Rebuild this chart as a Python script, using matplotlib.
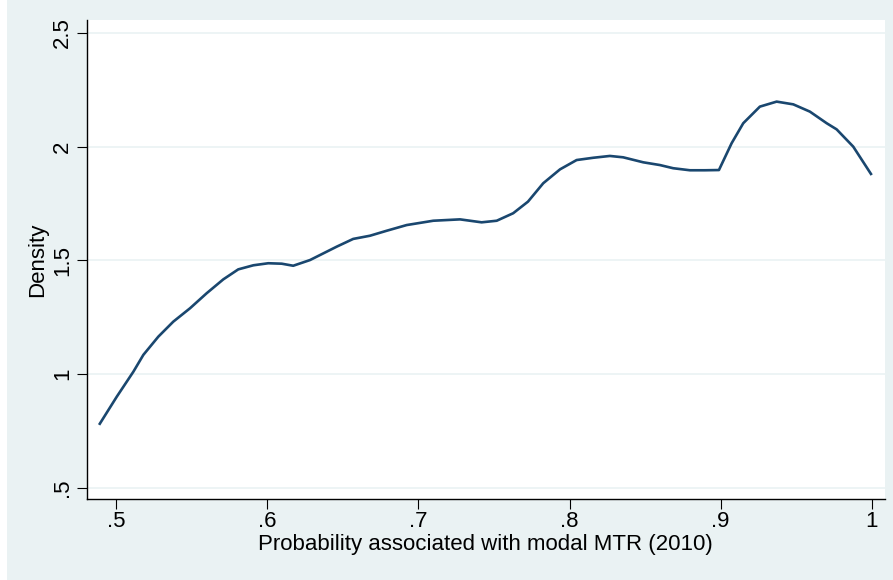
import matplotlib
matplotlib.use("Agg")
import matplotlib.pyplot as plt
from matplotlib.patches import Rectangle

# density curve
prob = [0.4886, 0.5003, 0.5113, 0.5179, 0.5278, 0.5377, 0.5488, 0.5598, 0.5708,
        0.5807, 0.5907, 0.6006, 0.6095, 0.6171, 0.6282, 0.6348, 0.6459, 0.6568,
        0.6679, 0.6790, 0.6922, 0.7098, 0.7275, 0.7418, 0.7518, 0.7627, 0.7725,
        0.7826, 0.7937, 0.8047, 0.8157, 0.8267, 0.8355, 0.8488, 0.8598, 0.8686,
        0.8797, 0.8896, 0.8989, 0.9073, 0.9150, 0.9260, 0.9371, 0.9481, 0.9591,
        0.9702, 0.9768, 0.9878, 1.0000]
density = [0.776, 0.900, 1.010, 1.084, 1.164, 1.230, 1.289, 1.355, 1.416,
           1.460, 1.478, 1.487, 1.485, 1.476, 1.501, 1.523, 1.560, 1.594,
           1.608, 1.630, 1.655, 1.674, 1.680, 1.667, 1.674, 1.707, 1.758,
           1.839, 1.900, 1.941, 1.951, 1.959, 1.953, 1.931, 1.919, 1.905,
           1.896, 1.896, 1.897, 2.015, 2.103, 2.176, 2.198, 2.186, 2.154,
           2.103, 2.076, 2.000, 1.875]

xticks = [0.5, 0.6, 0.7, 0.8, 0.9, 1.0]
xtick_labels = [".5", ".6", ".7", ".8", ".9", "1"]
yticks = [0.5, 1.0, 1.5, 2.0, 2.5]
ytick_labels = [".5", "1", "1.5", "2", "2.5"]

bg = "#eaf2f3"
navy = "#1a476f"
plt.rcParams["font.family"] = ["Liberation Sans", "DejaVu Sans"]

fig = plt.figure(figsize=(8.93, 5.80), dpi=100, facecolor="white")
# graph region (thin white strip on the left as in the original export)
fig.patches.append(Rectangle((7 / 893, 0), 1, 1, transform=fig.transFigure,
                             facecolor=bg, edgecolor="none", zorder=-1))
ax = fig.add_axes([0.0971, 0.1397, 0.8939, 0.8258])
ax.set_facecolor("white")

ax.plot(prob, density, color=navy, linewidth=1.9, solid_capstyle="butt",
        solid_joinstyle="round")

ax.set_xlim(0.4804, 1.0088)
ax.set_ylim(0.450, 2.557)
ax.set_xticks(xticks)
ax.set_xticklabels(xtick_labels)
ax.set_yticks(yticks)
ax.set_yticklabels(ytick_labels, rotation=90, va="center")
ax.tick_params(axis="both", labelsize=16, length=7, width=0.8, color="black")
ax.tick_params(axis="x", pad=2)
ax.tick_params(axis="y", pad=3)

ax.grid(axis="y", color=bg, linewidth=1.2)
ax.set_axisbelow(True)
for side in ["top", "right"]:
    ax.spines[side].set_visible(False)
for side in ["left", "bottom"]:
    ax.spines[side].set_linewidth(1.0)

ax.set_xlabel("Probability associated with modal MTR (2010)", fontsize=16, labelpad=1)
ax.set_ylabel("Density", fontsize=16, labelpad=3)

fig.savefig("out.png", dpi=100, facecolor="white")
